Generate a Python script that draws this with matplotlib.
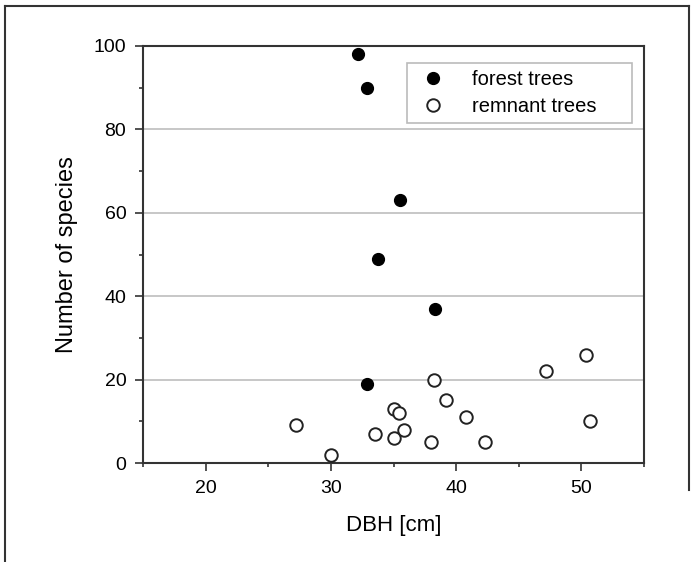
import matplotlib.pyplot as plt
from matplotlib.lines import Line2D
from matplotlib.ticker import MultipleLocator

# Data
forest_dbh = [32.2, 32.9, 35.5, 33.8, 38.3, 32.9]
forest_species = [98, 90, 63, 49, 37, 19]

remnant_dbh = [27.2, 30.0, 33.5, 35.0, 35.4, 35.0, 35.8, 38.2, 39.2, 38.0, 40.8, 42.3, 47.2, 50.4, 50.7]
remnant_species = [9, 2, 7, 13, 12, 6, 8, 20, 15, 5, 11, 5, 22, 26, 10]

x_ticks = [20, 30, 40, 50]
y_ticks = [0, 20, 40, 60, 80, 100]

plt.rcParams['font.family'] = ['Liberation Sans', 'DejaVu Sans']

fig = plt.figure(figsize=(6.97, 5.62), dpi=100)
ax = fig.add_axes([143 / 697, 1 - 463 / 562, 501 / 697, 417 / 562])

# Light horizontal grid lines
for y in [20, 40, 60, 80]:
	ax.axhline(y, color="#bdbdbd", lw=1.2, zorder=0)

ax.plot(forest_dbh, forest_species, "o", ms=8.5, color="black", label="forest trees", zorder=3)
ax.plot(remnant_dbh, remnant_species, "o", ms=9, mfc="white", mec="#222222", mew=1.4,
		label="remnant trees", zorder=3)

ax.set_xlim(15, 55)
ax.set_ylim(0, 100)
ax.set_xticks(x_ticks)
ax.set_yticks(y_ticks)
ax.xaxis.set_minor_locator(MultipleLocator(5))
ax.yaxis.set_minor_locator(MultipleLocator(10))
ax.tick_params(which="major", direction="out", length=6, width=1.2, labelsize=14, pad=6, color="#333333")
ax.tick_params(which="minor", direction="out", length=3, width=1.2, color="#333333")
for s in ax.spines.values():
	s.set_linewidth(1.5)
	s.set_color("#333333")

ax.set_xlabel("DBH [cm]", fontsize=16, labelpad=13)
ax.set_ylabel("Number of species", fontsize=17, labelpad=11)

# Legend box stretched to the width seen in the reference
leg = ax.legend(loc="upper left", bbox_to_anchor=(0.527, 0.85, 0.449, 0.11), mode="expand",
				borderaxespad=0, fancybox=False, fontsize=14.5, handletextpad=1.0,
				borderpad=0.35, labelspacing=0.4, handlelength=1.9)
leg.get_frame().set_edgecolor("#aaaaaa")
leg.get_frame().set_linewidth(1.2)

# Outer frame around the figure (top, left, right)
fig.add_artist(Line2D([5 / 697, 5 / 697], [0, 1 - 5.5 / 562], transform=fig.transFigure, color="#333333", lw=1.5))
fig.add_artist(Line2D([5 / 697, 689 / 697], [1 - 5.5 / 562, 1 - 5.5 / 562], transform=fig.transFigure, color="#333333", lw=1.5))
fig.add_artist(Line2D([689 / 697, 689 / 697], [1 - 490 / 562, 1 - 5.5 / 562], transform=fig.transFigure, color="#333333", lw=1.5))

fig.savefig("out.png", dpi=100)
